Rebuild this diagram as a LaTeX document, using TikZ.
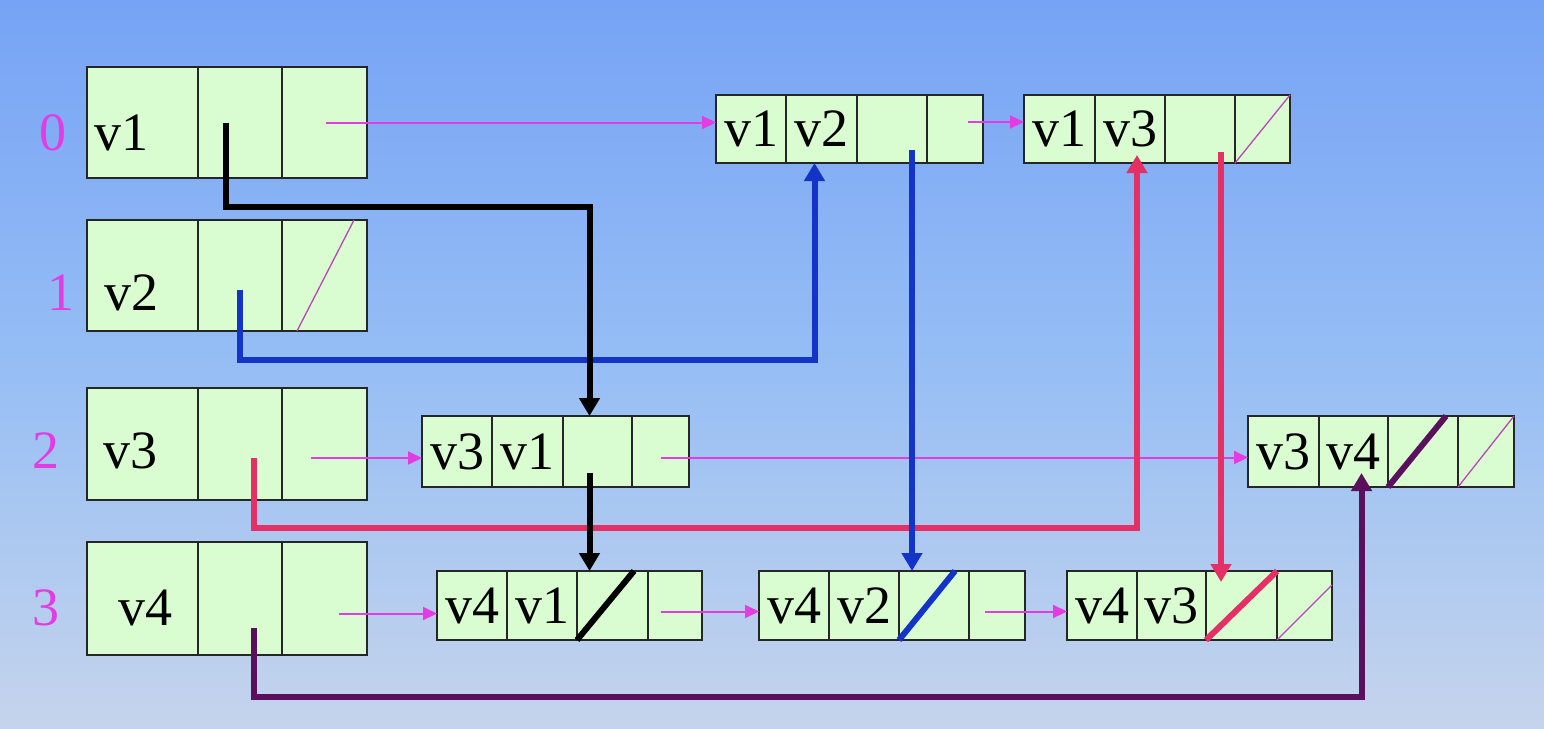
\documentclass[tikz,border=0pt]{standalone}
\usepackage{fontspec}
\setmainfont{Liberation Serif}
\usetikzlibrary{calc,arrows.meta}
\definecolor{bgtop}{RGB}{118,163,245}
\definecolor{bgmid}{RGB}{150,190,245}
\definecolor{bgbot}{RGB}{197,212,236}
\definecolor{cellfill}{RGB}{217,252,208}
\definecolor{mag}{RGB}{226,60,226}
\definecolor{pblue}{RGB}{20,52,200}
\definecolor{pred}{RGB}{228,48,100}
\definecolor{ppurple}{RGB}{90,16,92}
\tikzset{
  cellbox/.style={draw=black!85, line width=1.5pt, fill=cellfill, inner sep=0pt, outer sep=0pt, font=\fontsize{54}{60}\selectfont},
  vtext/.style={anchor=base, inner sep=0pt, font=\fontsize{54}{60}\selectfont},
  idx/.style={anchor=base, inner sep=0pt, text=mag, font=\fontsize{54}{60}\selectfont},
  nextarrow/.style={draw=mag, line width=2pt, -{Triangle[length=14pt,width=13pt]}},
  nullthin/.style={draw=mag!80!black!90, line width=1.3pt},
  ptr/.style={line width=6pt, -{Triangle[length=18pt,width=20pt]}},
  nullthick/.style={line width=6pt},
}
\newcommand\mkcell[6]{\node[cellbox, anchor=north west, minimum width={#3-#2}, minimum height={#5-#4}] (#1) at (#2,#4) {#6};}
\begin{document}
\begin{tikzpicture}[x=1pt,y=-1pt]
\useasboundingbox (0,0) rectangle (1544,728);
\shade[top color=bgtop, bottom color=bgbot, middle color=bgmid] (0,0) rectangle (1544,728);

% vertex table
\mkcell{V0a}{87}{198}{67}{178}{}
\mkcell{V0b}{198}{282}{67}{178}{}
\mkcell{V0c}{282}{367}{67}{178}{}
\mkcell{V1a}{87}{198}{220}{331}{}
\mkcell{V1b}{198}{282}{220}{331}{}
\mkcell{V1c}{282}{367}{220}{331}{}
\mkcell{V2a}{87}{198}{388}{500}{}
\mkcell{V2b}{198}{282}{388}{500}{}
\mkcell{V2c}{282}{367}{388}{500}{}
\mkcell{V3a}{87}{198}{542}{655}{}
\mkcell{V3b}{198}{282}{542}{655}{}
\mkcell{V3c}{282}{367}{542}{655}{}
\node[vtext] (t0) at (121,150) {v1};
\node[vtext] (t1) at (131,310) {v2};
\node[vtext] (t2) at (130,468) {v3};
\node[vtext] (t3) at (145,625) {v4};
\node[idx] (i0) at (53,150) {0};
\node[idx] (i1) at (61,310) {1};
\node[idx] (i2) at (46,468) {2};
\node[idx] (i3) at (46,625) {3};

% edge nodes
\mkcell{E01a}{716}{786}{95}{163}{v1}
\mkcell{E01b}{786}{857}{95}{163}{v2}
\mkcell{E01c}{857}{927}{95}{163}{}
\mkcell{E01d}{927}{983}{95}{163}{}
\mkcell{E02a}{1024}{1095}{95}{163}{v1}
\mkcell{E02b}{1095}{1165}{95}{163}{v3}
\mkcell{E02c}{1165}{1235}{95}{163}{}
\mkcell{E02d}{1235}{1290}{95}{163}{}
\mkcell{E21a}{422}{492}{416}{487}{v3}
\mkcell{E21b}{492}{563}{416}{487}{v1}
\mkcell{E21c}{563}{632}{416}{487}{}
\mkcell{E21d}{632}{689}{416}{487}{}
\mkcell{E23a}{1248}{1319}{416}{487}{v3}
\mkcell{E23b}{1319}{1388}{416}{487}{v4}
\mkcell{E23c}{1388}{1458}{416}{487}{}
\mkcell{E23d}{1458}{1514}{416}{487}{}
\mkcell{E31a}{437}{507}{571}{640}{v4}
\mkcell{E31b}{507}{577}{571}{640}{v1}
\mkcell{E31c}{577}{648}{571}{640}{}
\mkcell{E31d}{648}{702}{571}{640}{}
\mkcell{E32a}{759}{829}{571}{640}{v4}
\mkcell{E32b}{829}{899}{571}{640}{v2}
\mkcell{E32c}{899}{969}{571}{640}{}
\mkcell{E32d}{969}{1025}{571}{640}{}
\mkcell{E33a}{1067}{1137}{571}{640}{v4}
\mkcell{E33b}{1137}{1206}{571}{640}{v3}
\mkcell{E33c}{1206}{1277}{571}{640}{}
\mkcell{E33d}{1277}{1332}{571}{640}{}

% thin null slashes
\draw[nullthin] ([xshift=15pt]V1c.south west) -- ([xshift=-13pt]V1c.north east);
\draw[nullthin] (E02d.south west) -- (E02d.north east);
\draw[nullthin] (E23d.south west) -- (E23d.north east);
\draw[nullthin] (E33d.south west) -- ([yshift=-14pt]E33d.north east);

% thick null slashes
\draw[nullthick, black] (E31c.south west) -- ([xshift=-14pt]E31c.north east);
\draw[nullthick, pblue] (E32c.south west) -- ([xshift=-14pt]E32c.north east);
\draw[nullthick, pred] (E33c.south west) -- (E33c.north east);
\draw[nullthick, ppurple] (E23c.south west) -- ([xshift=-12pt]E23c.north east);

% next pointers
\coordinate (n1) at ([xshift=1pt,yshift=0pt]V0c.center);
\draw[nextarrow] (n1) -- (n1 -| E01a.west);
\coordinate (n2) at ([xshift=13pt,yshift=7pt]E01d.center);
\draw[nextarrow] (n2) -- (n2 -| E02a.west);
\coordinate (n3) at ([xshift=-14pt,yshift=-14pt]V2c.center);
\draw[nextarrow] (n3) -- (n3 -| E21a.west);
\coordinate (n4) at ([yshift=-6pt]E21d.center);
\draw[nextarrow] (n4) -- (n4 -| E23a.west);
\coordinate (n5) at ([xshift=14pt,yshift=-15pt]V3c.center);
\draw[nextarrow] (n5) -- (n5 -| E31a.west);
\coordinate (n6) at ([xshift=-14pt,yshift=-6pt]E31d.center);
\draw[nextarrow] (n6) -- (n6 -| E32a.west);
\coordinate (n7) at ([xshift=-12pt,yshift=-6pt]E32d.center);
\draw[nextarrow] (n7) -- (n7 -| E33a.west);

% bend levels
\coordinate (yk) at (0,207);
\coordinate (yb) at (0,360);
\coordinate (yr) at (0,528);
\coordinate (yp) at (0,697);

% red pointers
\coordinate (r1s) at ([xshift=14pt,yshift=-14pt]V2b.center);
\coordinate (r1t) at ($([xshift=7pt]E02b.south)+(0,-8)$);
\draw[ptr, pred] (r1s) -- (r1s |- yr) -| (r1t);
\coordinate (r2s) at ([xshift=21pt,yshift=-23pt]E02c.center);
\coordinate (r2t) at ($(r2s |- E33c.north)+(0,11)$);
\draw[ptr, pred] (r2s) -- (r2t);

% blue pointers
\coordinate (b1s) at ([yshift=-14pt]V1b.center);
\coordinate (b1t) at ([xshift=-7pt]E01b.south);
\draw[ptr, pblue] (b1s) -- (b1s |- yb) -| (b1t);
\coordinate (b2s) at ([xshift=20pt,yshift=-21pt]E01c.center);
\draw[ptr, pblue] (b2s) -- (b2s |- E32c.north);

% black pointers
\coordinate (k1s) at ([xshift=-14pt]V0b.center);
\coordinate (k1t) at ([xshift=-8pt]E21c.north);
\draw[ptr, black] (k1s) -- (k1s |- yk) -| (k1t);
\coordinate (k2s) at ([xshift=-8pt,yshift=-21pt]E21c.center);
\draw[ptr, black] (k2s) -- (k2s |- E31c.north);

% purple pointer
\coordinate (p1s) at ([xshift=14pt,yshift=-29pt]V3b.center);
\coordinate (p1t) at ($([xshift=8pt]E23b.south)+(0,-14)$);
\draw[ptr, ppurple] (p1s) -- (p1s |- yp) -| (p1t);
\end{tikzpicture}
\end{document}
